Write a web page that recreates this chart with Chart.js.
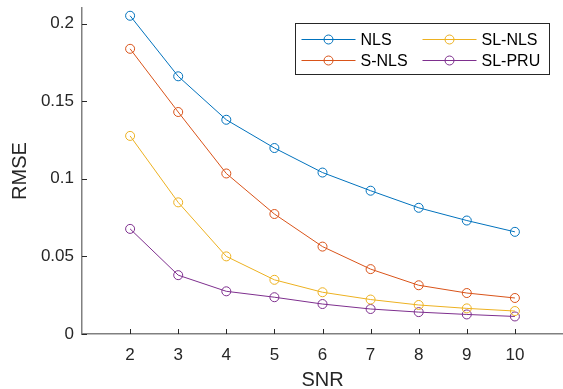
<!DOCTYPE html>
<html><head><meta charset="utf-8">
<script src="https://cdn.jsdelivr.net/npm/chart.js@4/dist/chart.umd.min.js"></script>
<style>html,body{margin:0;padding:0;background:#fff}</style>
</head><body>
<canvas id="c" width="563" height="389"></canvas>
<script>
const SNR = [2,3,4,5,6,7,8,9,10];
const NLS = [0.205,0.166,0.138,0.1198,0.104,0.0923,0.0813,0.0731,0.0658];
const S_NLS = [0.1837,0.143,0.1034,0.0773,0.0563,0.0418,0.0314,0.0264,0.0232];
const SL_NLS = [0.1276,0.0848,0.050,0.0349,0.0269,0.0222,0.0187,0.0165,0.0148];
const SL_PRU = [0.0677,0.0379,0.0275,0.0237,0.0193,0.0161,0.0141,0.0126,0.0113];
const X_TICKS = [2,3,4,5,6,7,8,9,10];
const Y_TICKS = [0,0.05,0.1,0.15,0.2];
const SERIES_NAMES = ['NLS','S-NLS','SL-NLS','SL-PRU'];
const SERIES_VALUES = [NLS, S_NLS, SL_NLS, SL_PRU];
const COLORS = ['#0072BD','#D95319','#EDB120','#7E2F8E'];
const FONT = "'Liberation Sans', Arial, Helvetica, sans-serif";
const TEXT = '#262626';

const datasets = SERIES_NAMES.map((name, i) => ({
  label: name,
  data: SNR.map((x, j) => ({x: x, y: SERIES_VALUES[i][j]})),
  borderColor: COLORS[i],
  backgroundColor: 'rgba(0,0,0,0)',
  pointBackgroundColor: 'rgba(0,0,0,0)',
  pointBorderColor: COLORS[i],
  pointRadius: 4.5,
  pointBorderWidth: 1,
  borderWidth: 1,
  tension: 0,
  fill: false
}));

const inwardTicks = {
  id: 'inwardTicks',
  afterDraw(chart) {
    const ctx = chart.ctx, xs = chart.scales.x, ys = chart.scales.y, a = chart.chartArea;
    ctx.save();
    ctx.strokeStyle = TEXT; ctx.lineWidth = 1;
    ctx.beginPath();
    X_TICKS.forEach(v => { const p = Math.round(xs.getPixelForValue(v)) + 0.5; ctx.moveTo(p, a.bottom); ctx.lineTo(p, a.bottom - 5); });
    Y_TICKS.forEach(v => { const p = Math.round(ys.getPixelForValue(v)) + 0.5; ctx.moveTo(a.left, p); ctx.lineTo(a.left + 5, p); });
    ctx.stroke();
    ctx.restore();
  }
};

const boxLegend = {
  id: 'boxLegend',
  afterDraw(chart) {
    const ctx = chart.ctx;
    const bx = 295.5, by = 23.5, bw = 254, bh = 51;
    ctx.save();
    ctx.fillStyle = '#fff';
    ctx.fillRect(bx, by, bw, bh);
    ctx.strokeStyle = '#262626'; ctx.lineWidth = 1;
    ctx.strokeRect(bx, by, bw, bh);
    const order = [[0, 0, 0], [1, 0, 1], [2, 1, 0], [3, 1, 1]];
    ctx.font = '16px ' + FONT;
    ctx.textBaseline = 'middle';
    order.forEach(([i, col, row]) => {
      const ds = chart.data.datasets[i];
      const x0 = bx + 6 + col * 121;
      const y0 = by + 16 + row * 21;
      ctx.strokeStyle = ds.borderColor; ctx.lineWidth = 1;
      ctx.beginPath(); ctx.moveTo(x0, y0); ctx.lineTo(x0 + 54, y0); ctx.stroke();
      ctx.beginPath(); ctx.arc(x0 + 27, y0, 4.5, 0, Math.PI * 2); ctx.stroke();
      ctx.fillStyle = '#000';
      ctx.fillText(ds.label, x0 + 59, y0 + 1);
    });
    ctx.restore();
  }
};

new Chart(document.getElementById('c'), {
  type: 'line',
  data: { datasets: datasets },
  options: {
    responsive: false,
    animation: false,
    events: [],
    layout: { autoPadding: false, padding: { top: 8, right: 0, left: 0, bottom: 0 } },
    plugins: { legend: { display: false }, tooltip: { enabled: false } },
    scales: {
      x: {
        type: 'linear', min: 1, max: 11,
        afterBuildTicks: s => { s.ticks = X_TICKS.map(v => ({value: v})); },
        afterFit: s => { s.height = 55; s.paddingLeft = 0; s.paddingRight = 0; },
        grid: { drawOnChartArea: false, drawTicks: false },
        border: { display: true, color: '#808080', width: 1.5 },
        ticks: { color: TEXT, font: { family: FONT, size: 17 }, padding: 11, maxRotation: 0, callback: v => String(v) },
        title: { display: true, text: 'SNR', color: TEXT, font: { family: FONT, size: 20 }, padding: { top: 0, bottom: -3 } }
      },
      y: {
        type: 'linear', min: 0, max: 0.21,
        afterBuildTicks: s => { s.ticks = Y_TICKS.map(v => ({value: v})); },
        afterFit: s => { s.width = 82; s.paddingTop = 0; s.paddingBottom = 0; },
        grid: { drawOnChartArea: false, drawTicks: false },
        border: { display: true, color: '#808080', width: 1.5 },
        ticks: { color: TEXT, font: { family: FONT, size: 17 }, padding: 8, callback: v => String(Math.round(v * 100) / 100) },
        title: { display: true, text: 'RMSE', color: TEXT, font: { family: FONT, size: 20 }, padding: { top: 8, bottom: 6 } }
      }
    }
  },
  plugins: [inwardTicks, boxLegend]
});
</script>
</body></html>
